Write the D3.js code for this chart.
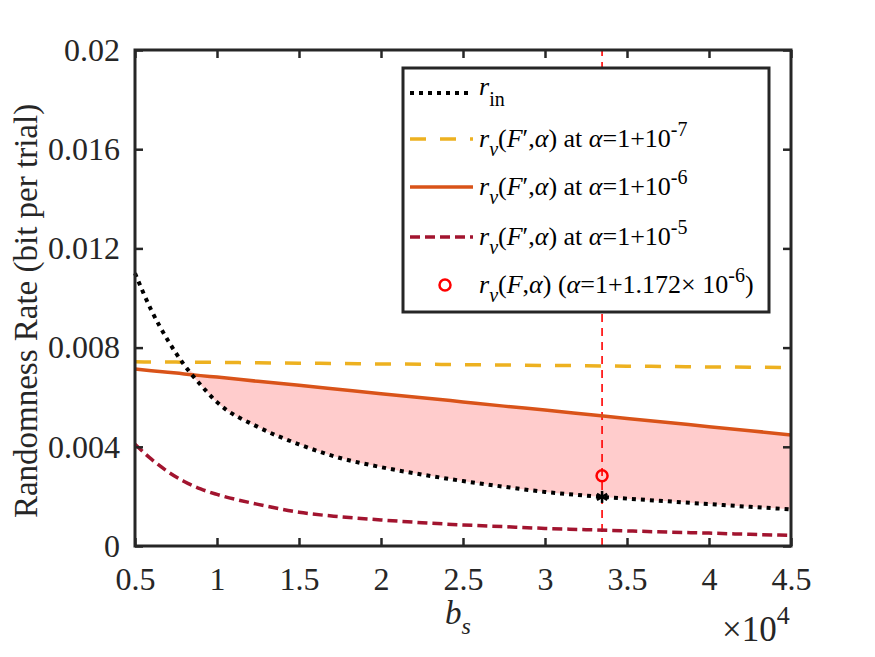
<!DOCTYPE html>
<html>
<head>
<meta charset="utf-8">
<script src="https://cdn.jsdelivr.net/npm/d3@7"></script>
<style>
  body { margin: 0; background: #fff; }
  svg text, svg tspan { font-family: "Liberation Serif", "DejaVu Serif", serif !important; }
</style>
</head>
<body>
<div id="chart"></div>
<script>
// b_s in units of 1e4
const bs = [0.5, 0.6, 0.7, 0.8, 0.9, 1.0, 1.25, 1.5, 1.75, 2.0, 2.25, 2.5, 2.75, 3.0, 3.25, 3.5, 3.75, 4.0, 4.25, 4.5];
const rIn = [0.0110, 0.0095, 0.0083, 0.0073, 0.0065, 0.0058, 0.0048, 0.0041, 0.00355, 0.00318, 0.00288, 0.00262, 0.00239, 0.00218, 0.00203, 0.00191, 0.00180, 0.00169, 0.00158, 0.00148];
const rA7 = [0.00743, 0.00742, 0.00742, 0.00741, 0.00741, 0.00740, 0.00739, 0.00737, 0.00736, 0.00734, 0.00733, 0.00731, 0.00730, 0.00728, 0.00727, 0.00725, 0.00724, 0.00722, 0.00721, 0.00719];
const rA6 = [0.00714, 0.00707, 0.00701, 0.00694, 0.00687, 0.00681, 0.00664, 0.00648, 0.00631, 0.00614, 0.00598, 0.00581, 0.00564, 0.00548, 0.00531, 0.00514, 0.00498, 0.00481, 0.00465, 0.00448];
const rA5 = [0.0041, 0.0035, 0.0030, 0.0026, 0.0023, 0.00208, 0.00168, 0.00136, 0.00118, 0.00105, 0.00094, 0.00085, 0.00078, 0.00071, 0.00066, 0.00061, 0.00056, 0.00052, 0.00047, 0.00043];
const markX = 3.348;
const markCircle = 0.00283;
const markStar = 0.00198;
const xTicks = [0.5, 1, 1.5, 2, 2.5, 3, 3.5, 4, 4.5];
const yTicks = [0, 0.004, 0.008, 0.012, 0.016, 0.02];

const width = 875, height = 657;
const margin = { top: 50, right: 84, bottom: 111, left: 135 };
const iw = width - margin.left - margin.right;
const ih = height - margin.top - margin.bottom;
const axisColor = '#262626';
const serif = '"Liberation Serif", "DejaVu Serif", serif';

const svg = d3.select('#chart').append('svg')
    .attr('width', width)
    .attr('height', height)
    .attr('font-family', serif);

const g = svg.append('g').attr('transform', `translate(${margin.left},${margin.top})`);

const x = d3.scaleLinear().domain([0.5, 4.5]).range([0, iw]);
const y = d3.scaleLinear().domain([0, 0.02]).range([ih, 0]);

const pts = bs.map((b, i) => ({ b, rin: rIn[i], a7: rA7[i], a6: rA6[i], a5: rA5[i] }));

// shaded region between r_in and alpha=1+1e-6 curve
g.append('path')
    .datum(pts)
    .attr('fill', '#ffcccc')
    .attr('d', d3.area()
        .x(d => x(d.b))
        .y0(d => y(d.rin))
        .y1(d => y(Math.max(d.rin, d.a6)))
        .curve(d3.curveMonotoneX));

// vertical red dashed marker line
g.append('line')
    .attr('x1', x(markX)).attr('x2', x(markX))
    .attr('y1', y(0)).attr('y2', y(0.02))
    .attr('stroke', '#ff0000')
    .attr('stroke-width', 1.6)
    .attr('stroke-dasharray', '8,6');

const series = [
    { key: 'a5', color: '#a2142f', width: 3.5, dash: '10,5' },
    { key: 'a6', color: '#d95319', width: 3.5, dash: null },
    { key: 'a7', color: '#edb120', width: 3.5, dash: '16,14' },
    { key: 'rin', color: '#000000', width: 4, dash: '4,5' }
];

series.forEach(s => {
    g.append('path')
        .datum(pts)
        .attr('fill', 'none')
        .attr('stroke', s.color)
        .attr('stroke-width', s.width)
        .attr('stroke-dasharray', s.dash)
        .attr('d', d3.line().x(d => x(d.b)).y(d => y(d[s.key])).curve(d3.curveMonotoneX));
});

// asterisk on r_in
const star = g.append('g').attr('transform', `translate(${x(markX)},${y(markStar)})`);
[0, 60, 120].forEach(a => {
    star.append('line')
        .attr('x1', 0).attr('y1', -6).attr('x2', 0).attr('y2', 6)
        .attr('stroke', '#000').attr('stroke-width', 2.5)
        .attr('transform', `rotate(${a})`);
});

g.append('circle')
    .attr('cx', x(markX)).attr('cy', y(markCircle))
    .attr('r', 5.5)
    .attr('fill', 'none')
    .attr('stroke', '#ff0000')
    .attr('stroke-width', 2.5);

// axes (ticks pointing inward, on all four sides)
const fmtY = d => String(+d.toFixed(3));
g.append('g').attr('transform', `translate(0,${ih})`)
    .call(d3.axisBottom(x).tickValues(xTicks).tickSize(-8).tickPadding(21).tickFormat(d => String(d)));
g.append('g').call(d3.axisTop(x).tickValues(xTicks).tickSize(-8).tickFormat(''));
g.append('g')
    .call(d3.axisLeft(y).tickValues(yTicks).tickSize(-8).tickPadding(15).tickFormat(fmtY));
g.append('g').attr('transform', `translate(${iw},0)`)
    .call(d3.axisRight(y).tickValues(yTicks).tickSize(-8).tickFormat(''));

g.selectAll('.domain').remove();
g.selectAll('.tick').each(function () { d3.select(this.parentNode).attr('font-family', serif); });
g.selectAll('.tick line').attr('stroke', axisColor).attr('stroke-width', 2.5);
g.selectAll('.tick text')
    .attr('font-family', serif)
    .style('font-size', '32px')
    .attr('fill', axisColor);

g.append('rect')
    .attr('width', iw).attr('height', ih)
    .attr('fill', 'none')
    .attr('stroke', axisColor)
    .attr('stroke-width', 3);

// legend
const leg = svg.append('g').attr('transform', 'translate(403,68)');
leg.append('rect')
    .attr('width', 366).attr('height', 244)
    .attr('fill', '#fff')
    .attr('stroke', axisColor)
    .attr('stroke-width', 3);

const rowY = [25, 71, 119, 169, 217];
const legSeries = [series[3], series[2], series[1], series[0]];
legSeries.forEach((s, i) => {
    leg.append('line')
        .attr('x1', 7).attr('x2', 70)
        .attr('y1', rowY[i]).attr('y2', rowY[i])
        .attr('stroke', s.color)
        .attr('stroke-width', s.width)
        .attr('stroke-dasharray', s.dash);
});
leg.append('circle')
    .attr('cx', 42).attr('cy', rowY[4])
    .attr('r', 5.5)
    .attr('fill', 'none')
    .attr('stroke', '#ff0000')
    .attr('stroke-width', 2.5);

const fs = 26, sub = 20;
function legText(i, dy) {
    return leg.append('text')
        .attr('x', 76).attr('y', rowY[i] + dy)
        .attr('font-family', serif)
        .attr('fill', '#000')
        .style('font-size', fs + 'px');
}
function rnu(t) {
    t.append('tspan').attr('font-style', 'italic').text('r');
    t.append('tspan').attr('font-style', 'italic').attr('font-size', sub).attr('dy', 9).text('\u03bd');
}

// r_in
const t0 = legText(0, 2);
t0.append('tspan').attr('font-style', 'italic').text('r');
t0.append('tspan').attr('font-size', sub).attr('dy', 11).text('in');

['7', '6', '5'].forEach((p, i) => {
    const t = legText(i + 1, 8);
    rnu(t);
    t.append('tspan').attr('dy', -9).text('(');
    t.append('tspan').attr('font-style', 'italic').text('F');
    t.append('tspan').text('\u2032,');
    t.append('tspan').attr('font-style', 'italic').text('\u03b1');
    t.append('tspan').text(') at ');
    t.append('tspan').attr('font-style', 'italic').text('\u03b1');
    t.append('tspan').text('=1+10');
    t.append('tspan').attr('font-size', sub).attr('dy', -11).text('-' + p);
});

const t4 = legText(4, 8);
rnu(t4);
t4.append('tspan').attr('dy', -9).text('(');
t4.append('tspan').attr('font-style', 'italic').text('F');
t4.append('tspan').text(',');
t4.append('tspan').attr('font-style', 'italic').text('\u03b1');
t4.append('tspan').text(') (');
t4.append('tspan').attr('font-style', 'italic').text('\u03b1');
t4.append('tspan').text('=1+1.172\u00d7 10');
t4.append('tspan').attr('font-size', sub).attr('dy', -11).text('-6');
t4.append('tspan').attr('dy', 11).text(')');

// axis labels
svg.append('text')
    .attr('transform', 'translate(37,311) rotate(-90)')
    .attr('text-anchor', 'middle')
    .attr('font-family', serif)
    .attr('fill', axisColor)
    .style('font-size', '33px')
    .text('Randomness Rate (bit per trial)');

const xl = svg.append('text')
    .attr('x', 445).attr('y', 624)
    .attr('font-family', serif)
    .attr('fill', axisColor)
    .style('font-size', '33px');
xl.append('tspan').attr('font-style', 'italic').text('b');
xl.append('tspan').attr('font-style', 'italic').attr('font-size', 24).attr('dy', 10).text('s');

const ex = svg.append('text')
    .attr('x', 722).attr('y', 641)
    .attr('font-family', serif)
    .attr('fill', axisColor)
    .style('font-size', '35px');
ex.append('tspan').text('\u00d710');
ex.append('tspan').attr('font-size', 26).attr('dy', -17).text('4');
</script>
</body>
</html>
